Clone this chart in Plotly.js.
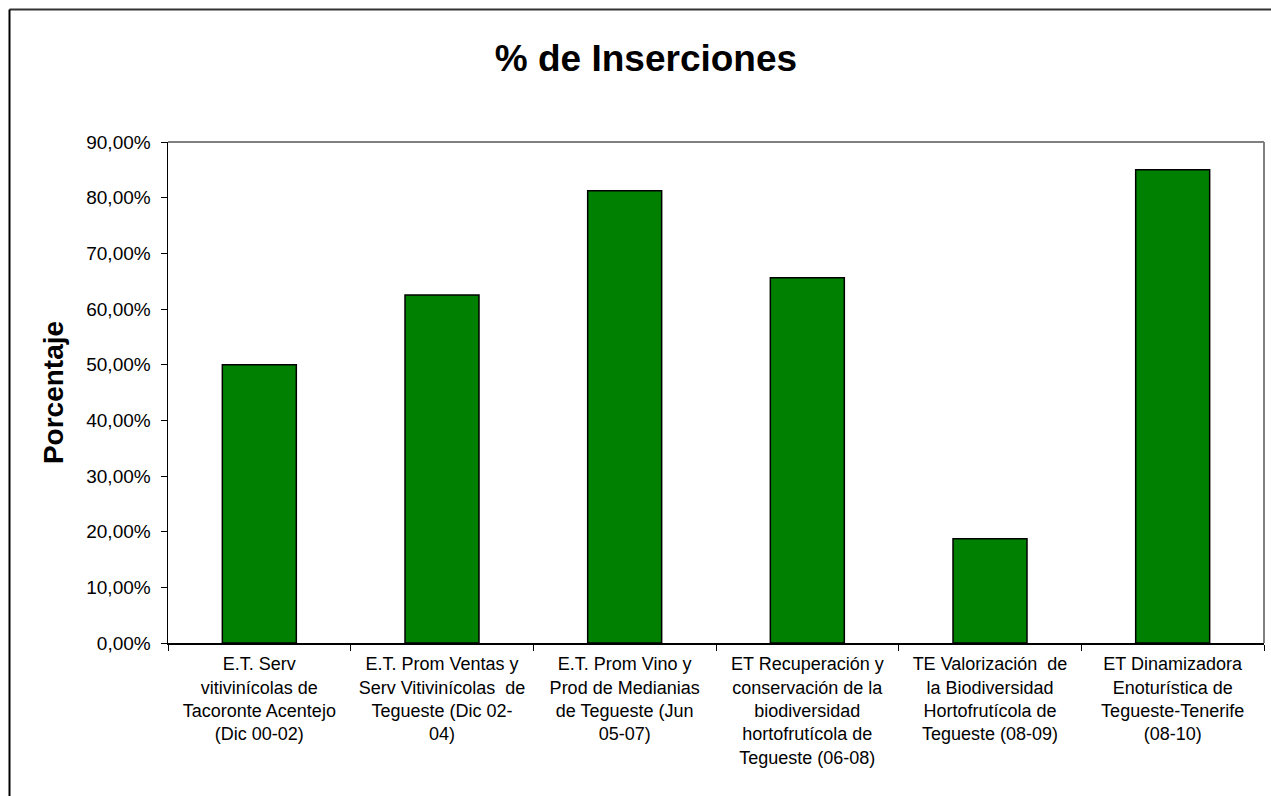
<!DOCTYPE html>
<html>
<head>
<meta charset="utf-8">
<script src="https://cdn.plot.ly/plotly-3.0.1.min.js"></script>
<style>
html,body{margin:0;padding:0;background:#fff;}
#chart{width:1271px;height:796px;}
</style>
</head>
<body>
<div id="chart"></div>
<script>
const categories = [
  "E.T. Serv<br>vitivinícolas de<br>Tacoronte Acentejo<br>(Dic 00-02)",
  "E.T. Prom Ventas y<br>Serv Vitivinícolas  de<br>Tegueste (Dic 02-<br>04)",
  "E.T. Prom Vino y<br>Prod de Medianias<br>de Tegueste (Jun<br>05-07)",
  "ET Recuperación y<br>conservación de la<br>biodiversidad<br>hortofrutícola de<br>Tegueste (06-08)",
  "TE Valorización  de<br>la Biodiversidad<br>Hortofrutícola de<br>Tegueste (08-09)",
  "ET Dinamizadora<br>Enoturística de<br>Tegueste-Tenerife<br>(08-10)"
];
const percentValues = [50.0, 62.5, 81.25, 65.63, 18.75, 85.0];
const yTicks = [0, 10, 20, 30, 40, 50, 60, 70, 80, 90];
const yTickLabels = ["0,00%", "10,00%", "20,00%", "30,00%", "40,00%", "50,00%", "60,00%", "70,00%", "80,00%", "90,00%"];

const W = 1271, H = 796;
const mL = 168, mR = 7, mT = 142, mB = 153;
const pw = W - mL - mR, ph = H - mT - mB;
const px = v => (v - mL) / pw;
const py = v => 1 - (v - mT) / ph;

const FONT = '"Liberation Sans", Arial, sans-serif';

const trace = {
  type: 'bar',
  x: categories,
  y: percentValues,
  marker: {color: '#008000', line: {color: '#000000', width: 1.5}},
  hoverinfo: 'none'
};

const layout = {
  width: W, height: H,
  margin: {l: mL, r: mR, t: mT, b: mB, pad: 0},
  paper_bgcolor: '#ffffff',
  plot_bgcolor: '#ffffff',
  showlegend: false,
  bargap: 0.595,
  font: {family: FONT, size: 18, color: '#000'},
  title: {
    text: '<b>% de Inserciones</b>',
    font: {family: FONT, size: 37, color: '#000'},
    x: 646 / W, xref: 'container', xanchor: 'center',
    y: 1 - 58 / H, yref: 'container', yanchor: 'middle'
  },
  xaxis: {
    type: 'category',
    showgrid: false,
    zeroline: false,
    showline: true, linecolor: '#000', linewidth: 1.5,
    ticks: 'outside', ticklen: 6, tickcolor: '#000', tickwidth: 1,
    tickson: 'boundaries',
    tickangle: 0,
    ticklabelstandoff: 4,
    tickfont: {family: FONT, size: 18, color: '#000'},
    fixedrange: true
  },
  yaxis: {
    range: [0, 90],
    tickmode: 'array',
    tickvals: yTicks,
    ticktext: yTickLabels,
    showgrid: false,
    zeroline: false,
    showline: true, linecolor: '#000', linewidth: 1.5,
    ticks: 'outside', ticklen: 6, tickcolor: '#000', tickwidth: 1,
    ticklabelstandoff: 6,
    tickfont: {family: FONT, size: 19, color: '#000'},
    title: {text: '<b>Porcentaje</b>', font: {family: FONT, size: 28, color: '#000'}, standoff: 14},
    fixedrange: true
  },
  shapes: [
    {type: 'line', xref: 'paper', yref: 'paper', x0: 0, x1: 1, y0: 1, y1: 1, line: {color: '#808080', width: 2}},
    {type: 'line', xref: 'paper', yref: 'paper', x0: 1, x1: 1, y0: 0, y1: 1, line: {color: '#808080', width: 2}},
    {type: 'line', xref: 'paper', yref: 'paper', x0: px(9.5), x1: px(W + 5), y0: py(9.5), y1: py(9.5), line: {color: '#333333', width: 2}},
    {type: 'line', xref: 'paper', yref: 'paper', x0: px(9.5), x1: px(9.5), y0: py(9.5), y1: py(H + 5), line: {color: '#000000', width: 2}}
  ]
};

Plotly.newPlot('chart', [trace], layout, {displayModeBar: false, staticPlot: true});
</script>
</body>
</html>
